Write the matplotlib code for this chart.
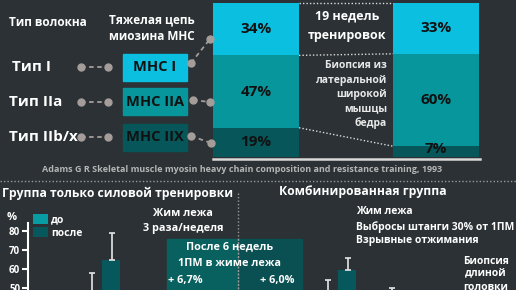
import matplotlib
matplotlib.use("Agg")
import matplotlib.pyplot as plt
from matplotlib.patches import Rectangle
import numpy as np

# ---------------- data ----------------
fiber_types = ["Тип I", "Тип IIa", "Тип IIb/x"]
mhc_labels = ["MHC I", "MHC IIA", "MHC IIX"]
stack_cols = ["до", "19 недель"]
mhc_I = [34, 33]
mhc_IIA = [47, 60]
mhc_IIX = [19, 7]

# bottom charts (% of fibres), three groups each; values below the crop are estimates
groups = ["I", "IIa", "IIx"]
strength_before = [44, 30, 26]
strength_before_err = [14, 8, 7]
strength_after = [64.5, 28, 8]
strength_after_err = [14.5, 8, 6]
combined_before = [45, 42, 14]
combined_before_err = [9, 8, 5]
combined_after = [59.5, 36, 5]
combined_after_err = [6.3, 7, 4]
y_ticks = [0, 10, 20, 30, 40, 50, 60, 70, 80]
gain_strength = "+ 6,7%"
gain_combined = "+ 6,0%"

# ---------------- style ----------------
BG = "#2b3134"
C1, C2, C3 = "#0bbfe0", "#06969b", "#06565a"
BEFORE_C, AFTER_C = "#089da2", "#06585c"
GREY = "#a59d99"
FONT = ["Open Sans", "DejaVu Sans"]
plt.rcParams["font.family"] = FONT
plt.rcParams["font.weight"] = "bold"

W, H = 516, 290
fig = plt.figure(figsize=(W / 100, H / 100), dpi=100, facecolor=BG)

def px_axes(x0, y0, x1, y1, **kw):
    return fig.add_axes([x0 / W, 1 - y1 / H, (x1 - x0) / W, (y1 - y0) / H], **kw)

# overlay in pixel coordinates
ov = px_axes(0, 0, W, H)
ov.set_xlim(0, W)
ov.set_ylim(H, 0)
ov.axis("off")
ov.set_zorder(5)
ov.patch.set_alpha(0)

# ---------------- top stacked bars ----------------
axt = px_axes(213, 3, 479, 157)
axt.set_facecolor(BG)
axt.axis("off")
xs = np.array([0, 1])
w = 86 / 180
axt.set_xlim(-w / 2, 1 + w / 2)
axt.set_ylim(0, 100)
b3 = np.array(mhc_IIX)
b2 = b3 + np.array(mhc_IIA)
axt.bar(xs, mhc_IIX, width=w, color=C3)
axt.bar(xs, mhc_IIA, bottom=b3, width=w, color=C2)
axt.bar(xs, mhc_I, bottom=b2, width=w, color=C1)
for i in range(2):
    for val, bot in [(mhc_IIX[i], 0), (mhc_IIA[i], b3[i]), (mhc_I[i], b2[i])]:
        yy = bot + val / 2
        if val < 10:
            yy = bot + 5
        axt.text(xs[i], yy, f"{val}%", ha="center", va="center",
                 fontsize=11, color="#111111", fontweight="bold")
# dotted connectors between bars
for yl, yr in [(100, 100), (b2[0], b2[1]), (b3[0], b3[1])]:
    axt.plot([w / 2, 1 - w / 2], [yl, yr], ls=(0, (1, 1.5)), color="#dddddd", lw=1, clip_on=False)

ov.plot([213, 480], [159, 159], color="#d9d9d9", lw=1.8)

# ---------------- left legend part ----------------
ov.text(48, 23, "Тип волокна", ha="center", va="center", fontsize=8.5, color="white")
ov.text(152, 20, "Тяжелая цепь", ha="center", va="center", fontsize=8.5, color="white")
ov.text(152, 37, "миозина МНС", ha="center", va="center", fontsize=8.5, color="white")
row_y = [67, 101.5, 137]
box_cols = [C1, C2, C3]
label_x = [32, 36, 43]
for k in range(3):
    y = row_y[k]
    ov.text(label_x[k], y, fiber_types[k], ha="center", va="center", fontsize=11, color="white")
    ov.plot([81, 108], [y, y], ls=(0, (2.5, 2)), color=GREY, lw=1.3)
    ov.plot([81, 108], [y, y], "o", color=GREY, ms=5)
    ov.add_patch(Rectangle((123, y - 13.5), 64, 27, color=box_cols[k]))
    ov.text(155, y, mhc_labels[k], ha="center", va="center", fontsize=10.5, color="#111111")
for (xa, ya, xb, yb) in [(191, 63, 210, 39), (193, 100, 210, 102), (191, 136, 211, 143)]:
    ov.plot([xa, xb], [ya, yb], ls=(0, (2.5, 2)), color=GREY, lw=1.3)
    ov.plot([xa, xb], [ya, yb], "o", color=GREY, ms=5)

ov.text(347, 16, "19 недель", ha="center", va="center", fontsize=9, color="white")
ov.text(347, 35, "тренировок", ha="center", va="center", fontsize=9, color="white")
for t, yy in zip(["Биопсия из", "латеральной", "широкой", "мышцы", "бедра"], [66, 80, 94, 109, 123]):
    ov.text(387, yy, t, ha="right", va="center", fontsize=7.5, color="#e8e8e8")

ov.text(242, 170, "Adams G R Skeletal muscle myosin heavy chain composition and resistance training, 1993",
        ha="center", va="center", fontsize=6.5, color="#b5b5b5")
ov.plot([0, W], [181, 181], ls=(0, (1, 1.5)), color="#9a9a9a", lw=1)
ov.plot([238, 238], [193, H], ls=(0, (1, 1.5)), color="#9a9a9a", lw=1)

# ---------------- bottom charts ----------------
def bottom_chart(x0, x1, before, berr, after, aerr, show_axis):
    ax = px_axes(x0, 223, x1, 383)
    ax.patch.set_alpha(0)
    g = np.arange(len(before))
    c0 = x0 + 73.5
    ax.set_xlim(-(73.5) / 64, (x1 - c0) / 64)
    ax.set_ylim(0, 84.2)
    bw = 18 / 64
    ax.bar(g - 0.15, before, width=bw, color=BEFORE_C, label="до")
    ax.bar(g + 0.15, after, width=bw, color=AFTER_C, label="после")
    ekw = dict(fmt="none", ecolor="#e6e6e6", elinewidth=1.2, capsize=2.5, capthick=1.2)
    ax.errorbar(g - 0.15, before, yerr=[np.zeros(len(before)), berr], **ekw)
    ax.errorbar(g + 0.165, after, yerr=[np.zeros(len(after)), aerr], **ekw)
    for s in ["top", "right", "bottom"]:
        ax.spines[s].set_visible(False)
    ax.set_xticks([])
    if show_axis:
        ax.spines["left"].set_color("white")
        ax.spines["left"].set_linewidth(1.5)
        ax.set_yticks(y_ticks)
        ax.tick_params(axis="y", colors="white", length=4.5, width=1.5, labelsize=7, pad=1)
        for lab in ax.get_yticklabels():
            lab.set_fontweight("bold")
    else:
        ax.spines["left"].set_visible(False)
        ax.set_yticks([])
    return ax

axl = bottom_chart(28, 238, strength_before, strength_before_err, strength_after, strength_after_err, True)
axr = bottom_chart(264, 516, combined_before, combined_before_err, combined_after, combined_after_err, False)
axl.legend(loc="upper left", bbox_to_anchor=(33 / W, 1 - 214 / H), bbox_transform=fig.transFigure,
           frameon=False, fontsize=7.5, labelcolor="white", handlelength=1.45, handleheight=1.05,
           borderaxespad=0, borderpad=0, labelspacing=0.2, handletextpad=0.3)

ov.text(118, 193, "Группа только силовой тренировки", ha="center", va="center", fontsize=8.7, color="white")
ov.text(363, 192, "Комбинированная группа", ha="center", va="center", fontsize=8.7, color="white")
ov.text(12, 217, "%", ha="center", va="center", fontsize=8, color="white")
ov.text(183, 214, "Жим лежа", ha="center", va="center", fontsize=7.8, color="white")
ov.text(183, 228, "3 раза/неделя", ha="center", va="center", fontsize=7.8, color="white")
ov.text(356, 212, "Жим лежа", ha="left", va="center", fontsize=7.5, color="white")
ov.text(356, 227, "Выбросы штанги 30% от 1ПМ", ha="left", va="center", fontsize=7.5, color="white")
ov.text(356, 241, "Взрывные отжимания", ha="left", va="center", fontsize=7.5, color="white")
for t, yy in zip(["Биопсия", "длиной", "головки"], [261, 274, 287]):
    ov.text(486, yy, t, ha="center", va="center", fontsize=7.5, color="white")

ov.add_patch(Rectangle((167, 239), 71, 60, color="#08605f", zorder=1))
ov.add_patch(Rectangle((238, 239), 64, 60, color="#0a5053", zorder=1))
ov.plot([238, 238], [239, H], ls=(0, (1, 1.5)), color="#9a9a9a", lw=1, zorder=2)
ov.text(230, 247, "После 6 недель", ha="center", va="center", fontsize=7.8, color="white", zorder=3)
ov.text(230, 263, "1ПМ в жиме лежа", ha="center", va="center", fontsize=7.8, color="white", zorder=3)
ov.text(168, 281, gain_strength, ha="left", va="center", fontsize=7.8, color="white", zorder=3)
ov.text(294, 281, gain_combined, ha="right", va="center", fontsize=7.8, color="white", zorder=3)

fig.savefig("out.png", dpi=100, facecolor=BG)
